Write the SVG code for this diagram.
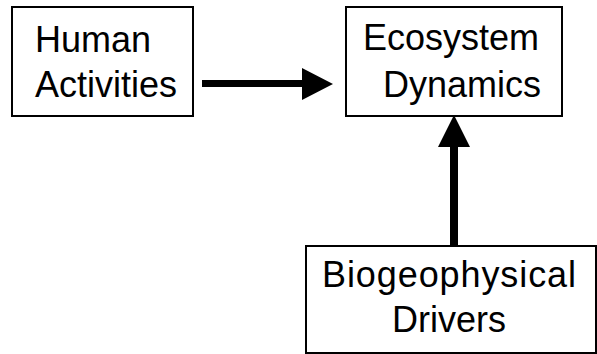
<svg xmlns="http://www.w3.org/2000/svg" width="597" height="354" viewBox="0 0 597 354">
<style>
.box{fill:#fff;stroke:#000;stroke-width:2}
.t{font-family:"Liberation Sans",Arial,sans-serif;font-size:36px;fill:#000}
.arr{fill:#000}
</style>
<rect width="597" height="354" fill="#fff"/>
<g id="human">
<rect class="box" x="12" y="7" width="181" height="109"/>
<text class="t" x="35" y="52">Human</text>
<text class="t" x="35" y="97">Activities</text>
</g>
<g id="ecosystem">
<rect class="box" x="346" y="7" width="216" height="109"/>
<text class="t" x="363" y="50">Ecosystem</text>
<text class="t" x="383" y="97">Dynamics</text>
</g>
<g id="bio">
<rect class="box" x="306" y="246" width="290" height="107"/>
<text class="t" x="322" y="287" textLength="254">Biogeophysical</text>
<text class="t" x="392" y="332">Drivers</text>
</g>
<g id="connectors">
<path class="arr" d="M202,80 H302 V68 L333,84 L302,100 V87 H202 Z"/>
<path class="arr" d="M450,246 V147 H438 L454,115 L470,147 H458 V246 Z"/>
</g>
</svg>
